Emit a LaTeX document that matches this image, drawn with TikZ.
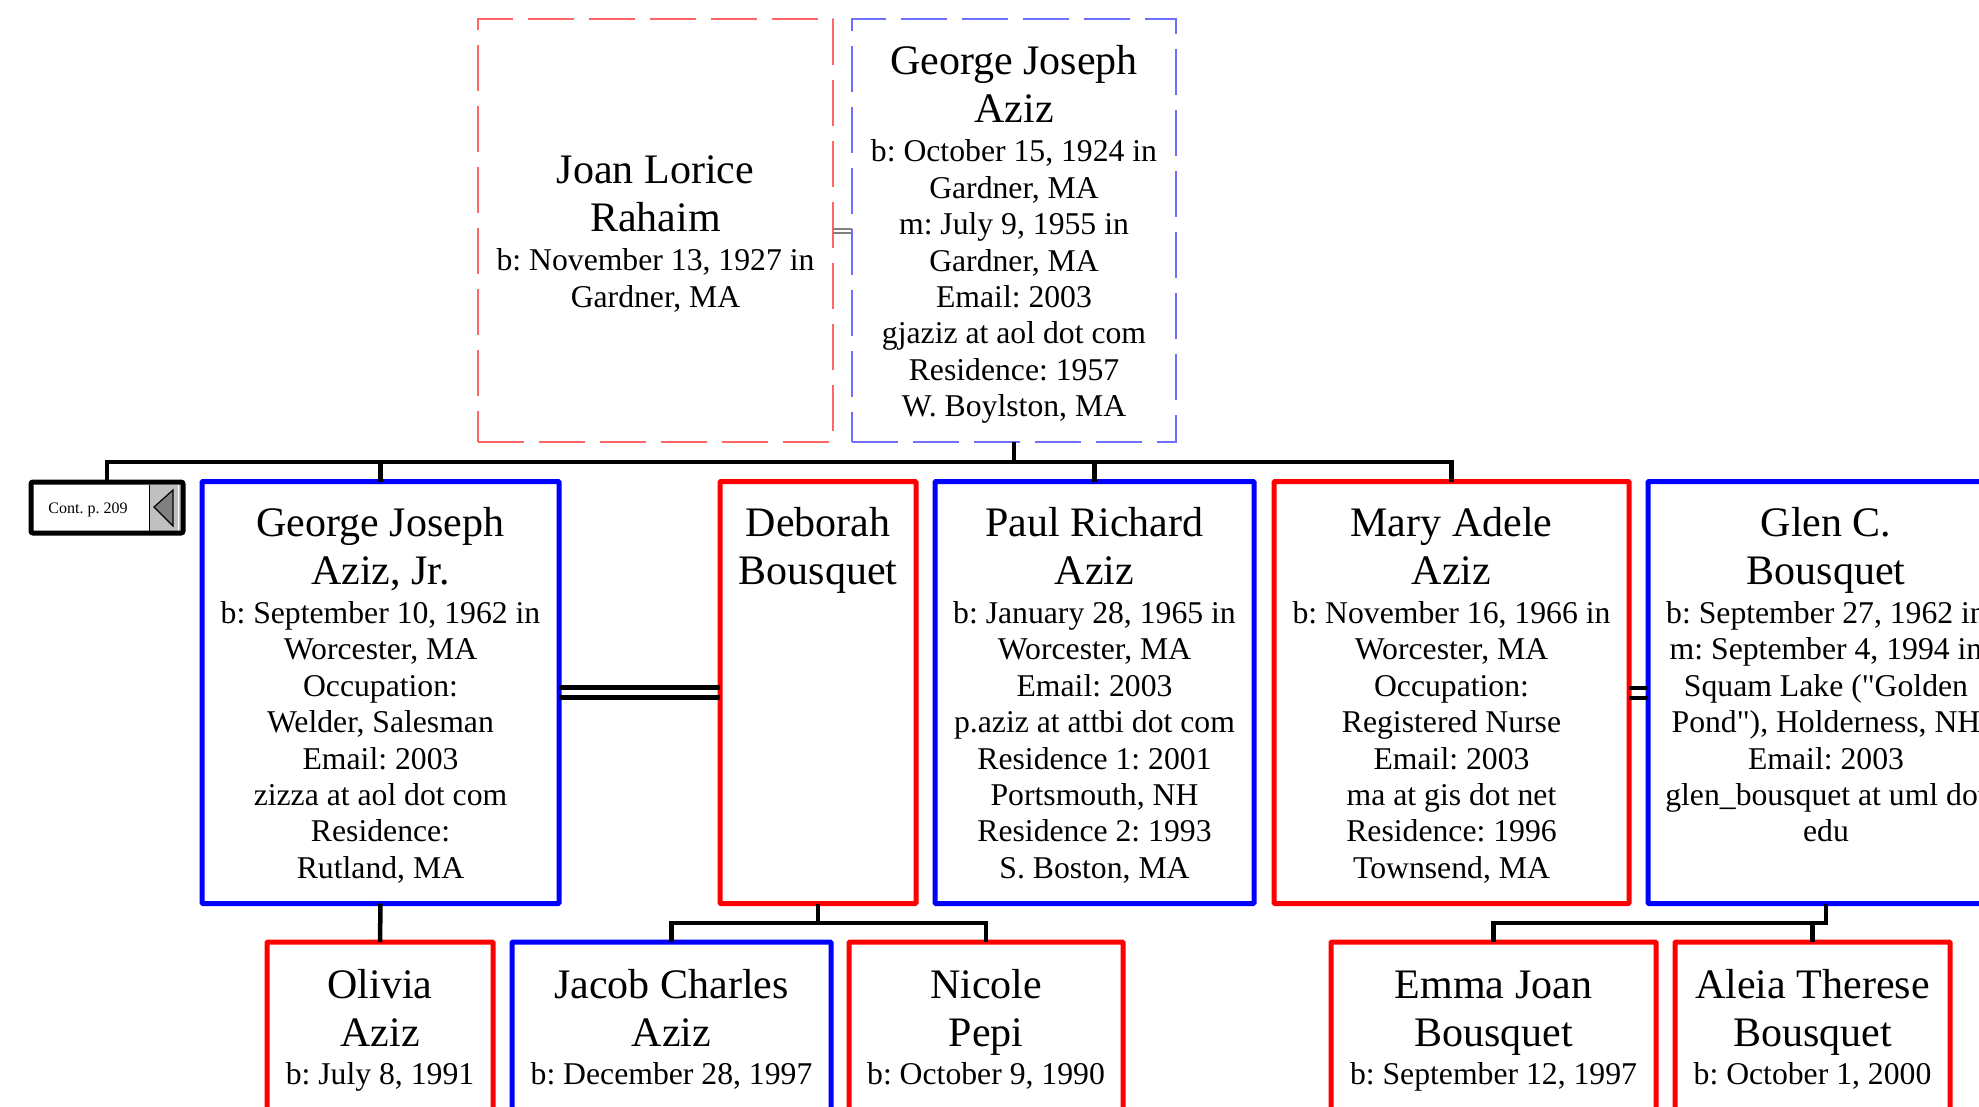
\documentclass[tikz,border=0pt]{standalone}
\usepackage{fontspec}
\setmainfont{Liberation Serif}[Ligatures=TeXOff]
\frenchspacing
\definecolor{lred}{RGB}{255,102,102}
\definecolor{lblue}{RGB}{110,110,255}
\definecolor{contgray}{RGB}{192,192,192}
\definecolor{trigray}{RGB}{128,128,128}
\begin{document}
\begin{tikzpicture}[x=1pt,y=-1pt,
  base/.style={rectangle, inner sep=0pt, outer sep=0pt},
  dbox/.style={base, line width=1.3pt, dash pattern=on 46pt off 15pt},
  mbox/.style={base, draw=blue, line width=5pt, rounded corners=1pt},
  fbox/.style={base, draw=red, line width=5pt, rounded corners=1pt},
  conn/.style={line width=4.5pt, black},
  wed/.style={line width=4.5pt, black},
  nm/.style={font=\fontsize{42}{48.3}\selectfont\frenchspacing, align=center, inner sep=0pt, anchor=north},
  dt/.style={font=\fontsize{31.7}{36.4}\selectfont\frenchspacing, align=center, inner sep=0pt, anchor=north}]
\useasboundingbox (0,0) rectangle (1979,1106);
\clip (0,0) rectangle (1979,1106);
\fill[white] (0,0) rectangle (1979,1106);

% ---------- top couple ----------
\node[dbox, draw=lred, minimum width=355pt, minimum height=423pt] (joan) at (655.5,230.5) {};
\node[dbox, draw=lblue, minimum width=324pt, minimum height=423pt] (gsr) at (1014,230.5) {};
\node[nm] (joanN) at (655.5,143.3) {\rule{0pt}{40pt}Joan Lorice\\Rahaim};
\node[dt] (joanD) at (655.5,240.7) {\rule{0pt}{30pt}b: November 13, 1927 in\\Gardner, MA};
\node[nm] (gsrN) at (1014,34) {\rule{0pt}{40pt}George Joseph\\Aziz};
\node[dt] (gsrD) at (1014,131.7) {\rule{0pt}{30pt}b: October 15, 1924 in\\Gardner, MA\\m: July 9, 1955 in\\Gardner, MA\\Email: 2003\\gjaziz at aol dot com\\Residence: 1957\\W. Boylston, MA};
\draw[gray, line width=1.3pt] ([yshift=1.5pt]joan.east) -- ([yshift=1.5pt]gsr.west);
\draw[gray, line width=1.3pt] ([yshift=-2.5pt]joan.east) -- ([yshift=-2.5pt]gsr.west);

% ---------- continuation box ----------
\fill[contgray] (149,484.5) rectangle (180.5,530.5);
\draw[line width=1pt] (149,484.5) -- (149,530.5);
\draw[white, line width=0.8pt] (178.5,484.5) -- (178.5,530.5);
\draw[fill=trigray, line width=1.2pt, line join=miter] (154,507) -- (173,490) -- (173,526) -- cycle;
\node[base, draw=black, line width=5pt, rounded corners=2pt, minimum width=152pt, minimum height=51pt] (cont) at (107,507.5) {};
\node[font=\fontsize{16}{19}\selectfont, anchor=base, inner sep=0pt] (contT) at (88,513) {Cont. p. 209};

% ---------- second row ----------
\node[mbox, minimum width=357pt, minimum height=422pt] (gjr) at (380.5,692.5) {};
\node[fbox, minimum width=196pt, minimum height=422pt] (deb) at (818,692.5) {};
\node[mbox, minimum width=319pt, minimum height=422pt] (paul) at (1094.5,692.5) {};
\node[fbox, minimum width=355pt, minimum height=422pt] (mary) at (1451.5,692.5) {};
\node[mbox, minimum width=356pt, minimum height=422pt] (glen) at (1826,692.5) {};

\node[nm] (gjrN) at (380.5,496) {\rule{0pt}{40pt}George Joseph\\Aziz, Jr.};
\node[dt] (gjrD) at (380.5,593.3) {\rule{0pt}{30pt}b: September 10, 1962 in\\Worcester, MA\\Occupation:\\Welder, Salesman\\Email: 2003\\zizza at aol dot com\\Residence:\\Rutland, MA};
\node[nm] (debN) at (818,496) {\rule{0pt}{40pt}Deborah\\Bousquet};
\node[nm] (paulN) at (1094.5,496) {\rule{0pt}{40pt}Paul Richard\\Aziz};
\node[dt] (paulD) at (1094.5,593.3) {\rule{0pt}{30pt}b: January 28, 1965 in\\Worcester, MA\\Email: 2003\\p.aziz at attbi dot com\\Residence 1: 2001\\Portsmouth, NH\\Residence 2: 1993\\S. Boston, MA};
\node[nm] (maryN) at (1451.5,496) {\rule{0pt}{40pt}Mary Adele\\Aziz};
\node[dt] (maryD) at (1451.5,593.3) {\rule{0pt}{30pt}b: November 16, 1966 in\\Worcester, MA\\Occupation:\\Registered Nurse\\Email: 2003\\ma at gis dot net\\Residence: 1996\\Townsend, MA};
\node[nm] (glenN) at (1826,496) {\rule{0pt}{40pt}Glen C.\\Bousquet};
\node[dt] (glenD) at (1826,593.3) {\rule{0pt}{30pt}b: September 27, 1962 in\\m: September 4, 1994 in\\Squam Lake ("Golden\\Pond"), Holderness, NH\\Email: 2003\\glen\_bousquet at uml dot\\edu};

% marriages
\draw[wed] ([yshift=5pt]gjr.east) -- ([yshift=5pt]deb.west);
\draw[wed] ([yshift=-4.8pt]gjr.east) -- ([yshift=-4.8pt]deb.west);
\draw[wed] ([yshift=4.5pt]mary.east) -- ([yshift=4.5pt]glen.west);
\draw[wed] ([yshift=-5.5pt]mary.east) -- ([yshift=-5.5pt]glen.west);

% sibling line
\coordinate (sib) at (0,462);
\draw[conn] (cont.north) -- (cont.north |- sib) -- (mary.north |- sib) -- (mary.north);
\draw[conn] (gsr.south) -- (gsr.south |- sib);
\draw[conn] (gjr.north) -- (gjr.north |- sib);
\draw[conn] (paul.north) -- (paul.north |- sib);

% ---------- children ----------
\node[fbox, minimum width=226pt, minimum height=238pt] (oli) at (380,1061) {};
\node[mbox, minimum width=319pt, minimum height=238pt] (jac) at (671.5,1061) {};
\node[fbox, minimum width=274pt, minimum height=238pt] (nic) at (986,1061) {};
\node[fbox, minimum width=325pt, minimum height=238pt] (emma) at (1493.5,1061) {};
\node[fbox, minimum width=275pt, minimum height=238pt] (aleia) at (1812.5,1061) {};

\node[nm] (oliN) at (380,958) {\rule{0pt}{40pt}Olivia\\Aziz};
\node[dt] (oliD) at (380,1054) {\rule{0pt}{30pt}b: July 8, 1991};
\node[nm] (jacN) at (671.5,958) {\rule{0pt}{40pt}Jacob Charles\\Aziz};
\node[dt] (jacD) at (671.5,1054) {\rule{0pt}{30pt}b: December 28, 1997};
\node[nm] (nicN) at (986,958) {\rule{0pt}{40pt}Nicole\\Pepi};
\node[dt] (nicD) at (986,1054) {\rule{0pt}{30pt}b: October 9, 1990};
\node[nm] (emmaN) at (1493.5,958) {\rule{0pt}{40pt}Emma Joan\\Bousquet};
\node[dt] (emmaD) at (1493.5,1054) {\rule{0pt}{30pt}b: September 12, 1997};
\node[nm] (aleiaN) at (1812.5,958) {\rule{0pt}{40pt}Aleia Therese\\Bousquet};
\node[dt] (aleiaD) at (1812.5,1054) {\rule{0pt}{30pt}b: October 1, 2000};

\coordinate (kid) at (0,923);
\draw[conn] (gjr.south) -- (oli.north);
\draw[conn] (deb.south) -- (deb.south |- kid);
\draw[conn] (jac.north) -- (jac.north |- kid) -- (nic.north |- kid) -- (nic.north);
\draw[conn] (glen.south) -- (glen.south |- kid) -- (emma.north |- kid) -- (emma.north);
\draw[conn] (aleia.north) -- (aleia.north |- kid);
\end{tikzpicture}
\end{document}
